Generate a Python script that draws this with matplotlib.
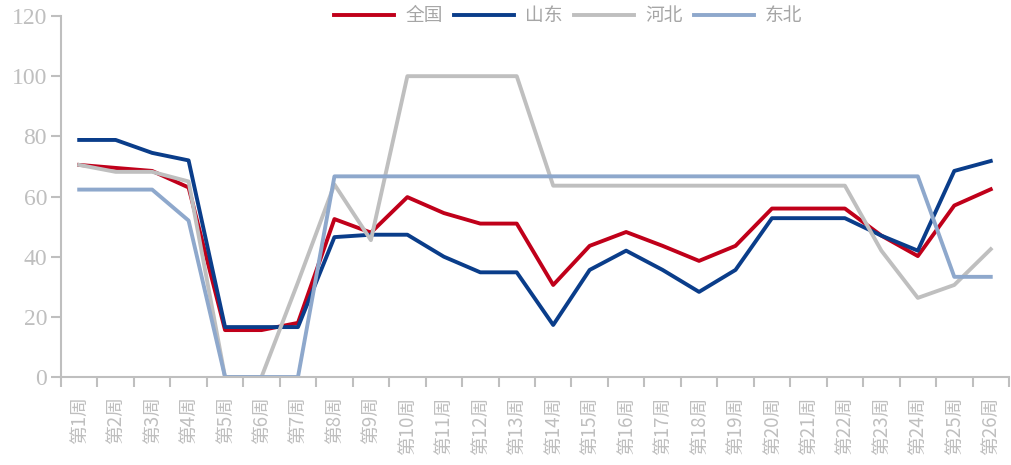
import matplotlib
matplotlib.use('Agg')
import matplotlib.pyplot as plt
import numpy as np

weeks = ['第%d周' % (i + 1) for i in range(26)]

quanguo = [70.5, 69.5, 68.5, 63, 15.6, 15.6, 18, 52.5, 48, 59.8, 54.5, 51, 51, 30.6,
           43.6, 48.2, 43.6, 38.6, 43.6, 56, 56, 56, 47, 40.2, 57, 62.4]
shandong = [78.8, 78.8, 74.5, 72, 16.6, 16.6, 16.6, 46.5, 47.3, 47.3, 40, 34.8, 34.8, 17.3,
            35.6, 42, 35.6, 28.3, 35.6, 52.8, 52.8, 52.8, 47, 42, 68.5, 71.8]
hebei = [70.5, 68.2, 68.2, 65, 0, 0, 31.5, 64, 45.5, 100, 100, 100, 100, 63.6,
         63.6, 63.6, 63.6, 63.6, 63.6, 63.6, 63.6, 63.6, 42, 26.3, 30.6, 42.5]
dongbei = [62.3, 62.3, 62.3, 52, 0, 0, 0, 66.7, 66.7, 66.7, 66.7, 66.7, 66.7, 66.7,
           66.7, 66.7, 66.7, 66.7, 66.7, 66.7, 66.7, 66.7, 66.7, 66.7, 33.3, 33.3]

series_names = ['全国', '山东', '河北', '东北']
colors = ['#C0001A', '#0A3D8A', '#BFBFBF', '#8EA8CC']

grey = '#BFBFBF'
plt.rcParams['font.family'] = ['Noto Sans CJK SC', 'DejaVu Sans']

fig = plt.figure(figsize=(10.11, 4.65), dpi=100)
ax = fig.add_axes([0.0603, 0.1892, 0.9377, 0.7764])

x = np.arange(len(weeks))
for data, name, c in zip([quanguo, shandong, hebei, dongbei], series_names, colors):
    ax.plot(x, data, color=c, lw=2.8, label=name)

ax.set_xlim(-0.5, len(weeks) - 0.5)
ax.set_ylim(0, 120)
ax.set_yticks(np.arange(0, 121, 20))

# boundary ticks (major) + category labels (minor)
ax.set_xticks(np.arange(-0.5, len(weeks), 1.0))
ax.set_xticklabels([])
ax.set_xticks(x, minor=True)
ax.set_xticklabels(weeks, minor=True, rotation=90)
ax.tick_params(axis='x', which='minor', length=0, pad=14, labelsize=13.5, labelcolor=grey)
ax.tick_params(axis='x', which='major', length=7, width=1.5, color=grey)
ax.tick_params(axis='y', length=7, width=1.5, color=grey, pad=3, labelsize=17,
               labelcolor=grey, labelfontfamily='Liberation Serif')

for s in ['top', 'right']:
    ax.spines[s].set_visible(False)
for s in ['left', 'bottom']:
    ax.spines[s].set_color(grey)
    ax.spines[s].set_linewidth(1.5)

leg = fig.legend(loc='upper center', bbox_to_anchor=(0.562, 1.025), ncol=4, frameon=False,
                 fontsize=13.5, handlelength=3.2, columnspacing=0.6, handletextpad=0.6)
for t in leg.get_texts():
    t.set_color('#A6A6A6')

fig.savefig('out.png', dpi=100)
